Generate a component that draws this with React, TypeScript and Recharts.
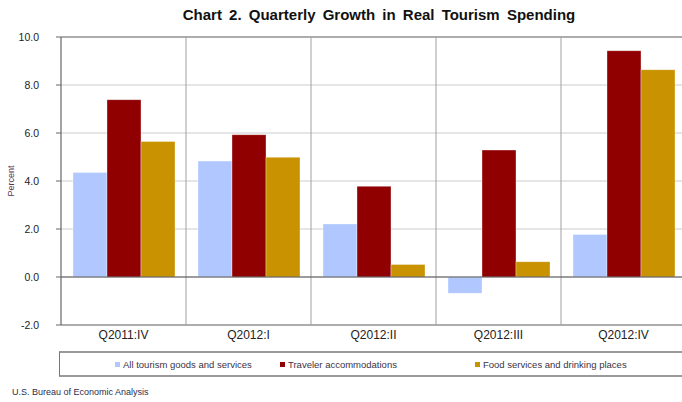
import React from 'react';
import { BarChart, Bar, XAxis, YAxis, CartesianGrid, Legend, ReferenceLine } from 'recharts';

const categories = ['Q2011:IV', 'Q2012:I', 'Q2012:II', 'Q2012:III', 'Q2012:IV'];
const allTourism = [4.35, 4.83, 2.21, -0.68, 1.77];
const travelerAccommodations = [7.39, 5.93, 3.78, 5.29, 9.43];
const foodServices = [5.65, 4.99, 0.52, 0.64, 8.64];
const yTicks = [-2, 0, 2, 4, 6, 8, 10];

const seriesNames = ['All tourism goods and services', 'Traveler accommodations', 'Food services and drinking places'];
const seriesColors = ['#b0c8ff', '#900000', '#c89200'];
const legendOffsets = [55, 220, 415];

const data = categories.map((c, i) => ({
  category: c,
  all: allTourism[i],
  traveler: travelerAccommodations[i],
  food: foodServices[i],
}));

const FONT = '"Liberation Sans", Arial, sans-serif';

const LegendBox = (props: any) => {
  const payload = [...(props.payload || [])].sort(
    (a: any, b: any) => seriesNames.indexOf(a.value) - seriesNames.indexOf(b.value)
  );
  return (
    <div
      style={{
        position: 'relative',
        boxSizing: 'border-box',
        width: 640,
        height: 26,
        borderTop: '2px solid #9a9a9a',
        borderBottom: '2px solid #9a9a9a',
        borderLeft: '1.5px solid #777',
        fontFamily: FONT,
        fontSize: 9.5,
        color: '#3a3345',
      }}
    >
      {payload.map((p: any, i: number) => (
        <span
          key={i}
          style={{
            position: 'absolute',
            left: legendOffsets[i],
            top: 0,
            height: 22,
            display: 'flex',
            alignItems: 'center',
            whiteSpace: 'nowrap',
          }}
        >
          <span style={{ display: 'inline-block', width: 5, height: 5, background: p.color, marginRight: 3 }} />
          {p.value}
        </span>
      ))}
    </div>
  );
};

export default function App() {
  return (
    <div
      style={{
        position: 'absolute',
        left: 0,
        top: 0,
        width: 682,
        height: 402,
        overflow: 'hidden',
        background: '#fff',
        fontFamily: FONT,
      }}
    >
      <div
        style={{
          position: 'absolute',
          left: 0,
          width: 758,
          top: 6,
          textAlign: 'center',
          fontWeight: 'bold',
          fontSize: 15,
          color: '#111',
          wordSpacing: 3,
          whiteSpace: 'nowrap',
        }}
      >
        Chart 2. Quarterly Growth in Real Tourism Spending
      </div>
      <BarChart
        width={690}
        height={402}
        data={data}
        margin={{ top: 37, right: 4, left: 0, bottom: 25 }}
        barCategoryGap={12}
        barGap={0}
        style={{ position: 'absolute', left: 0, top: 0 }}
      >
        <CartesianGrid stroke="#cccccc" vertical={false} />
        <CartesianGrid
          stroke="#a0a0a0"
          horizontal={false}
          verticalCoordinatesGenerator={({ offset }: any) =>
            [1, 2, 3, 4].map((i) => offset.left + (i * offset.width) / categories.length)
          }
          syncWithTicks={false}
        />
        <XAxis
          dataKey="category"
          height={26}
          tickLine={false}
          tickSize={0}
          tickMargin={5}
          axisLine={{ stroke: '#9a9a9a', strokeWidth: 1.5 }}
          tick={{ fill: '#222', fontSize: 12, fontFamily: FONT }}
          interval={0}
        />
        <YAxis
          width={61}
          domain={[-2, 10]}
          ticks={yTicks}
          tickFormatter={(v: number) => v.toFixed(1)}
          tickSize={5}
          tickMargin={17}
          axisLine={{ stroke: '#666', strokeWidth: 1.2 }}
          tickLine={{ stroke: '#666' }}
          tick={{ fill: '#222', fontSize: 10.5, fontFamily: FONT }}
          allowDataOverflow
          label={{
            value: 'Percent',
            angle: -90,
            position: 'insideLeft',
            offset: 11,
            style: { fill: '#5a2f4f', fontSize: 9, fontFamily: FONT, textAnchor: 'middle' },
          }}
        />
        <ReferenceLine y={10} stroke="#9a9a9a" strokeWidth={1.5} />
        <Legend
          verticalAlign="bottom"
          itemSorter={null as any}
          content={<LegendBox />}
          wrapperStyle={{ left: 59, bottom: 25, width: 640, height: 26 }}
        />
        <Bar dataKey="all" name={seriesNames[0]} fill={seriesColors[0]} stroke="rgba(255,255,255,0.35)" isAnimationActive={false} />
        <Bar dataKey="traveler" name={seriesNames[1]} fill={seriesColors[1]} stroke="rgba(255,255,255,0.35)" isAnimationActive={false} />
        <Bar dataKey="food" name={seriesNames[2]} fill={seriesColors[2]} stroke="rgba(255,255,255,0.35)" isAnimationActive={false} />
        <ReferenceLine y={0} stroke="#555" strokeWidth={1.2} />
      </BarChart>
      <div
        style={{
          position: 'absolute',
          left: 12,
          top: 387,
          fontSize: 9,
          color: '#1f2d4d',
          whiteSpace: 'nowrap',
        }}
      >
        U.S. Bureau of Economic Analysis
      </div>
    </div>
  );
}
